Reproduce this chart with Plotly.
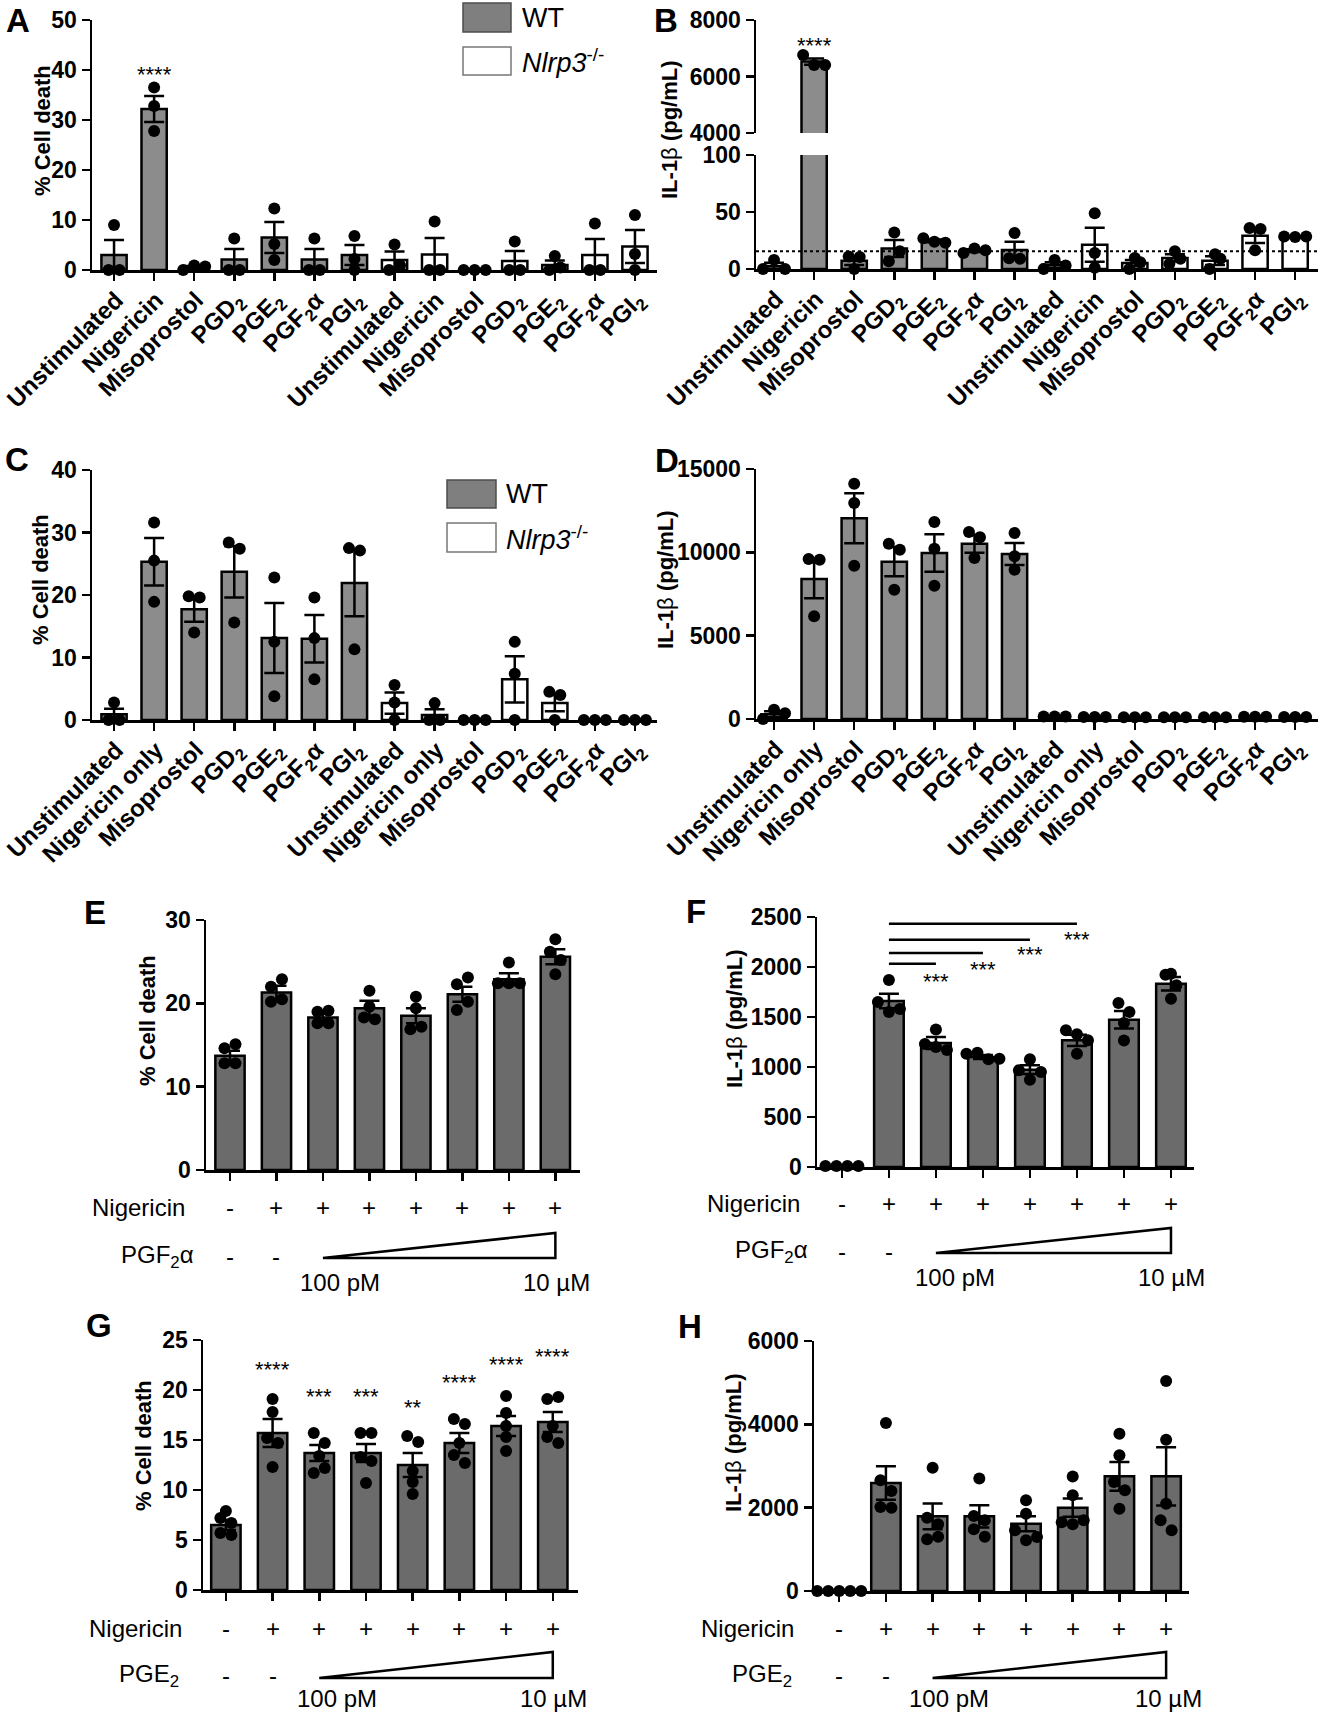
import plotly.graph_objects as go

W, H = 1320, 1717

# ---------------- data ----------------
ab_treatments = ["Unstimulated", "Nigericin", "Misoprostol", "PGD<sub>2</sub>",
                 "PGE<sub>2</sub>", "PGF<sub>2</sub>α", "PGI<sub>2</sub>"]
cd_treatments = ["Unstimulated", "Nigericin only", "Misoprostol", "PGD<sub>2</sub>",
                 "PGE<sub>2</sub>", "PGF<sub>2</sub>α", "PGI<sub>2</sub>"]

# Panel A: % cell death (WT / Nlrp3-/-)
a_wt_mean = [3.0, 32.2, 0.5, 2.1, 6.5, 2.1, 3.0]
a_wt_sem = [3.0, 2.6, 0.3, 2.1, 3.1, 2.1, 2.0]
a_wt_points = [[0, 9.0, 0], [36.5, 32.8, 27.8], [0, 0.9, 0.7], [0, 6.3, 0],
               [12.3, 5.2, 2.0], [0, 6.3, 0], [6.8, 2.2, 0]]
a_ko_mean = [2.0, 3.1, 0, 1.8, 1.0, 3.0, 4.7]
a_ko_sem = [1.7, 3.3, 0, 2.0, 0.9, 3.2, 3.3]
a_ko_points = [[5.1, 0, 0.9], [0, 9.7, 0], [0, 0, 0], [0, 5.7, 0],
               [2.8, 0, 0.5], [0, 9.3, 0], [11.0, 3.2, 0]]

# Panel B: IL-1beta (pg/mL), broken axis
b_wt_mean = [2.7, 6530, 7.2, 18.0, 24.7, 16.2, 16.7]
b_wt_sem = [2.7, 110, 3.6, 7.4, 1.2, 1.2, 7.3]
b_wt_points = [[0, 8, 0], [6765, 6410, 6410], [11, 0, 10.5], [6.7, 32, 15.5],
               [27, 24, 23], [14, 18, 16.5], [31.5, 9.5, 9]]
b_ko_mean = [3.7, 21.3, 5.2, 9.7, 7.3, 29.2, 28.3]
b_ko_sem = [2.3, 14.9, 2.8, 3.2, 3.9, 6.5, 0.2]
b_ko_points = [[0, 8, 3], [49, 14, 1], [0, 9.6, 6], [4.5, 15.5, 9],
               [0, 13, 9], [36, 16.5, 35], [28.5, 28, 28.5]]
b_threshold = 15.5

# Panel C: % cell death
c_wt_mean = [0.9, 25.3, 17.7, 23.7, 13.1, 13.0, 21.9]
c_wt_sem = [0.9, 3.8, 2.0, 4.1, 5.6, 3.8, 5.3]
c_wt_points = [[0, 2.8, 0], [31.6, 25.5, 18.9], [19.8, 14.0, 19.6], [28.4, 15.6, 27.4],
               [22.8, 12.5, 3.8], [19.6, 13.1, 6.5], [27.5, 11.3, 27.1]]
c_ko_mean = [2.7, 0.8, 0, 6.5, 2.7, 0, 0]
c_ko_sem = [1.7, 0.9, 0, 3.7, 1.3, 0, 0]
c_ko_points = [[5.6, 2.8, 0], [0, 2.7, 0], [0, 0, 0], [12.5, 7.4, 0],
               [4.5, 0, 4.0], [0, 0, 0], [0, 0, 0]]

# Panel D: IL-1beta (pg/mL)
d_wt_mean = [280, 8400, 12040, 9440, 9960, 10520, 9900]
d_wt_sem = [180, 1150, 1500, 880, 1120, 540, 660]
d_wt_points = [[0, 550, 350], [9600, 6160, 9560], [14120, 12960, 9200], [10520, 7760, 10160],
               [11820, 10220, 8000], [11220, 9660, 10900], [11160, 9760, 8960]]
d_ko_mean = [150, 120, 100, 100, 110, 130, 120]
d_ko_sem = [0, 0, 0, 0, 0, 0, 0]
d_ko_points = [[150, 150, 150], [120, 120, 120], [100, 100, 100], [100, 100, 100],
               [110, 110, 110], [130, 130, 130], [120, 120, 120]]

# Panels E-H: dose series
nigericin_row = ["-", "+", "+", "+", "+", "+", "+", "+"]
agonist_row = ["-", "-"]

e_mean = [13.7, 21.3, 18.3, 19.4, 18.5, 21.1, 22.9, 25.6]
e_sem = [0.6, 0.8, 0.5, 0.9, 0.9, 0.9, 0.7, 0.9]
e_points = [[14.6, 15.1, 12.8, 12.8], [22.0, 22.9, 20.2, 20.5], [19.0, 19.1, 17.6, 17.6],
            [21.5, 19.6, 18.3, 18.1], [20.8, 19.4, 16.9, 17.2], [22.3, 23.1, 19.2, 20.2],
            [24.9, 22.4, 22.4, 22.4], [27.7, 26.2, 25.2, 23.5]]

f_mean = [10, 1660, 1240, 1100, 973, 1267, 1473, 1833]
f_sem = [3, 73, 60, 20, 44, 56, 87, 67]
f_points = [[10, 10, 10, 10], [1870, 1650, 1550, 1580], [1375, 1230, 1200, 1170],
            [1133, 1143, 1077, 1083], [1077, 967, 873, 950], [1367, 1327, 1133, 1267],
            [1640, 1550, 1265, 1440], [1933, 1923, 1683, 1817]]
f_comparisons = [(1, 5, 2433), (1, 4, 2273), (1, 3, 2140), (1, 2, 2033)]
f_sig = ["***", "***", "***", "***"]
f_sig_y = [2317, 2167, 2017, 1900]

g_mean = [6.5, 15.7, 13.7, 13.7, 12.5, 14.7, 16.4, 16.8]
g_sem = [0.5, 1.4, 0.8, 0.9, 1.2, 1.0, 1.0, 1.0]
g_points = [[7.9, 7.2, 6.7, 5.7, 5.5], [19.1, 17.8, 15.2, 14.7, 12.3],
            [15.7, 14.7, 13.4, 11.7, 12.2], [15.7, 15.7, 13.3, 12.9, 10.7],
            [15.4, 14.8, 11.9, 10.8, 9.6], [17.1, 16.6, 14.7, 13.5, 12.7],
            [19.4, 17.7, 16.4, 15.3, 13.9], [19.1, 19.3, 16.4, 15.3, 14.7]]
g_sig = ["", "****", "***", "***", "**", "****", "****", "****"]
g_sig_y = [0, 22.5, 19.8, 19.8, 18.7, 21.2, 23.0, 23.8]

h_mean = [0, 2592, 1792, 1792, 1616, 2000, 2752, 2752]
h_sem = [0, 400, 310, 265, 180, 220, 345, 700]
h_points = [[0, 0, 0, 0, 0], [4032, 2656, 2400, 2016, 2000], [2960, 1760, 1600, 1240, 1300],
            [2700, 1800, 1700, 1480, 1300], [2176, 1856, 1456, 1216, 1296],
            [2750, 2300, 1650, 1600, 1700], [3776, 3256, 2616, 2416, 1976],
            [5040, 3632, 2096, 1696, 1456]]

# ---------------- styling ----------------
FONT = "Liberation Sans, Arial, sans-serif"
WT_ABCD = "#8c8c8c"
WT_EFGH = "#6b6b6b"
DOT = 12

fig = go.Figure()


def key(letter, n):
    return f"{letter}axis" if n == 1 else f"{letter}axis{n}"


def ref(letter, n):
    return letter if n == 1 else f"{letter}{n}"


GEOM = {}


def set_axes(n, x0, x1, top, bot, xr, yr, ytickvals, xticktext=None, nx=14,
             show_x=True, show_xline=True):
    GEOM[n] = dict(ppu_x=(x1 - x0) / (xr[1] - xr[0]), ppu_y=(bot - top) / (yr[1] - yr[0]))
    show_labels = show_x and xticktext is not None
    xa = dict(domain=[x0 / W, x1 / W], range=xr, anchor=ref("y", n),
              showline=show_xline, linewidth=2.5, linecolor="black",
              ticks="outside" if show_xline else "", ticklen=8, tickwidth=2.5,
              tickcolor="black", tickmode="array", tickvals=list(range(nx)),
              showticklabels=show_labels, tickangle=-45, automargin=False,
              ticklabelstandoff=-4, ticklabelshift=2, ticklabeloverflow="allow",
              tickfont=dict(size=24, family=FONT, color="black", weight="bold"),
              showgrid=False, zeroline=False, fixedrange=True)
    if show_labels:
        xa["ticktext"] = xticktext
    ya = dict(domain=[1 - bot / H, 1 - top / H], range=yr, anchor=ref("x", n),
              showline=True, linewidth=2.5, linecolor="black", ticks="outside",
              ticklen=8, tickwidth=2.5, tickcolor="black", tickmode="array",
              tickvals=ytickvals, tickformat="d", automargin=False,
              ticklabeloverflow="allow",
              tickfont=dict(size=23, family=FONT, color="black", weight="bold"),
              showgrid=False, zeroline=False, fixedrange=True)
    fig.update_layout(**{key("x", n): xa, key("y", n): ya})


def swarm(vals, n, spacing=11.0):
    ppu_x, ppu_y = GEOM[n]["ppu_x"], GEOM[n]["ppu_y"]
    order = sorted(range(len(vals)), key=lambda i: (vals[i], i))
    clusters, cur = [], [order[0]]
    for i in order[1:]:
        if (vals[i] - vals[cur[0]]) * ppu_y < DOT * 0.9:
            cur.append(i)
        else:
            clusters.append(cur)
            cur = [i]
    clusters.append(cur)
    off = [0.0] * len(vals)
    for c in clusters:
        c = sorted(c)
        m = len(c)
        for k, i in enumerate(c):
            off[i] = (k - (m - 1) / 2) * spacing / ppu_x
    return off


def add_bars(n, xs, means, sems, fill):
    fig.add_trace(go.Bar(
        x=xs, y=means, width=0.63, xaxis=ref("x", n), yaxis=ref("y", n),
        marker=dict(color=fill, line=dict(color="black", width=2.5)),
        error_y=dict(type="data", array=sems, visible=True, color="black",
                     thickness=2.5, width=10),
        showlegend=False, hoverinfo="skip"))


def add_dots(n, xs, groups, keep=lambda v: True):
    px_, py_ = [], []
    for x, g in zip(xs, groups):
        g = [v for v in g if keep(v)]
        if not g:
            continue
        off = swarm(g, n)
        for v, o in zip(g, off):
            px_.append(x + o)
            py_.append(v)
    fig.add_trace(go.Scatter(
        x=px_, y=py_, mode="markers", xaxis=ref("x", n), yaxis=ref("y", n),
        marker=dict(size=DOT, color="black"), cliponaxis=False,
        showlegend=False, hoverinfo="skip"))


def text(x, y, s, size=24, bold=False, xanchor="center", yanchor="middle",
         xref="paper", yref="paper", angle=0, yshift=0):
    fig.add_annotation(
        x=x, y=y, xref=xref, yref=yref, text=s, showarrow=False,
        xanchor=xanchor, yanchor=yanchor, textangle=angle, yshift=yshift,
        font=dict(size=size, family=FONT, color="black",
                  weight="bold" if bold else "normal"))


def P(xpx, ypx):
    return xpx / W, 1 - ypx / H


wt_x = list(range(7))
ko_x = list(range(7, 14))

# ---------- Panel A ----------
set_axes(1, 92, 657, 20, 270, [-0.55, 13.55], [0, 50], [0, 10, 20, 30, 40, 50],
         ab_treatments + ab_treatments)
add_bars(1, wt_x, a_wt_mean, a_wt_sem, WT_ABCD)
add_bars(1, ko_x, a_ko_mean, a_ko_sem, "white")
add_dots(1, wt_x + ko_x, a_wt_points + a_ko_points)
text(1, 40, "****", size=22, xref="x", yref="y", yshift=-4)

# ---------- Panel B (broken axis) ----------
set_axes(2, 756, 1318, 155, 269, [-0.45, 13.57], [0, 100], [0, 50, 100],
         ab_treatments + ab_treatments)
set_axes(3, 756, 1318, 20, 133, [-0.45, 13.57], [4000, 8000], [4000, 6000, 8000],
         None, show_x=False, show_xline=False)
for n in (2, 3):
    add_bars(n, wt_x, b_wt_mean, b_wt_sem, WT_ABCD)
    add_bars(n, ko_x, b_ko_mean, b_ko_sem, "white")
add_dots(2, wt_x + ko_x, b_wt_points + b_ko_points, keep=lambda v: v <= 100)
add_dots(3, wt_x + ko_x, b_wt_points + b_ko_points, keep=lambda v: v >= 4000)
fig.add_shape(type="line", xref="x2 domain", yref="y2", x0=0, x1=1,
              y0=b_threshold, y1=b_threshold,
              line=dict(color="black", width=2, dash="dot"))
text(1, 7235, "****", size=22, xref="x3", yref="y3", yshift=-4)

# ---------- Panel C ----------
set_axes(4, 92, 657, 470, 720, [-0.55, 13.55], [0, 40], [0, 10, 20, 30, 40],
         cd_treatments + cd_treatments)
add_bars(4, wt_x, c_wt_mean, c_wt_sem, WT_ABCD)
add_bars(4, ko_x, c_ko_mean, c_ko_sem, "white")
add_dots(4, wt_x + ko_x, c_wt_points + c_ko_points)

# ---------- Panel D ----------
set_axes(5, 756, 1318, 469, 719, [-0.45, 13.57], [0, 15000], [0, 5000, 10000, 15000],
         cd_treatments + cd_treatments)
add_bars(5, wt_x, d_wt_mean, d_wt_sem, WT_ABCD)
add_bars(5, ko_x, d_ko_mean, d_ko_sem, "white")
add_dots(5, wt_x + ko_x, d_wt_points + d_ko_points)

# ---------- Panels E-H ----------
dose_x = list(range(8))
set_axes(6, 206, 580, 920, 1170, [-0.516, 7.53], [0, 30], [0, 10, 20, 30], None, nx=8)
add_bars(6, dose_x, e_mean, e_sem, WT_EFGH)
add_dots(6, dose_x, e_points)

set_axes(7, 817, 1194, 917, 1167, [-0.53, 7.49], [0, 2500],
         [0, 500, 1000, 1500, 2000, 2500], None, nx=8)
add_bars(7, dose_x, f_mean, f_sem, WT_EFGH)
add_dots(7, dose_x, f_points)
for (a, b, yv) in f_comparisons:
    fig.add_shape(type="line", xref="x7", yref="y7", x0=a, x1=b, y0=yv, y1=yv,
                  line=dict(color="black", width=2.5))
for (a, b, yv), s, sy in zip(f_comparisons, f_sig, f_sig_y):
    text(b, sy, s, size=22, xref="x7", yref="y7", yshift=-4)

set_axes(8, 203, 578, 1340, 1590, [-0.49, 7.54], [0, 25], [0, 5, 10, 15, 20, 25],
         None, nx=8)
add_bars(8, dose_x, g_mean, g_sem, WT_EFGH)
add_dots(8, dose_x, g_points)
for i, (s, sy) in enumerate(zip(g_sig, g_sig_y)):
    if s:
        text(i, sy, s, size=22, xref="x8", yref="y8", yshift=-4)

set_axes(9, 814, 1189, 1341, 1591, [-0.54, 7.49], [0, 6000], [0, 2000, 4000, 6000],
         None, nx=8)
add_bars(9, dose_x, h_mean, h_sem, WT_EFGH)
add_dots(9, dose_x, h_points)

# treatment rows under E-H
rows = [
    (6, 90, 1207, "PGF<sub>2</sub>α", 119, 1256, 1258, 1233, 340, 556, 1282),
    (7, 705, 1203, "PGF<sub>2</sub>α", 733, 1251, 1253, 1228, 955, 1171, 1277),
    (8, 87, 1628, "PGE<sub>2</sub>", 117, 1675, 1678, 1652, 337, 553, 1698),
    (9, 699, 1628, "PGE<sub>2</sub>", 730, 1675, 1678, 1652, 949, 1168, 1698),
]
for n, nx_, ny_, ag, ax_, ay_, tb, tt, lx, hx, cy in rows:
    xr_ = ref("x", n)
    text(*P(nx_, ny_), "Nigericin", size=24, xanchor="left")
    for i, s in enumerate(nigericin_row):
        text(i, 1 - ny_ / H, s, size=24, xref=xr_)
    text(*P(ax_, ay_), ag, size=24, xanchor="left")
    for i, s in enumerate(agonist_row):
        text(i, 1 - ay_ / H, s, size=24, xref=xr_)
    yb, yt = 1 - tb / H, 1 - tt / H
    fig.add_shape(type="path", xref=xr_, yref="paper",
                  path=f"M 2,{yb} L 7,{yb} L 7,{yt} Z",
                  line=dict(color="black", width=2.5), fillcolor="white")
    text(*P(lx, cy), "100 pM", size=24)
    text(*P(hx, cy), "10 µM", size=24)

# ---------- axis titles ----------
cell = "<b>% Cell death</b>"
il1b = "<b>IL-1</b>β<b> (pg/mL)</b>"
for (tx, ty, s) in [(42, 130, cell), (669, 130, il1b), (41, 580, cell), (666, 580, il1b),
                    (147, 1021, cell), (734, 1019, il1b), (143, 1446, cell),
                    (733, 1443, il1b)]:
    text(*P(tx, ty), s, size=22, angle=-90)

# ---------- panel letters ----------
for (lx, ly, s) in [(18, 20, "A"), (666, 20, "B"), (17, 459, "C"), (667, 460, "D"),
                    (95, 912, "E"), (696, 911, "F"), (99, 1325, "G"), (690, 1326, "H")]:
    text(*P(lx, ly), s, size=33, bold=True)

# ---------- legends ----------
for (bx0, bx1, wy0, wy1, ky0, ky1, tx) in [(463, 511, 3, 32, 47, 75, 520),
                                            (447, 496, 480, 508, 523, 552, 504)]:
    fig.add_shape(type="rect", xref="paper", yref="paper",
                  x0=bx0 / W, x1=bx1 / W, y0=1 - wy1 / H, y1=1 - wy0 / H,
                  fillcolor="#7f7f7f", line=dict(color="#4d4d4d", width=1.5))
    fig.add_shape(type="rect", xref="paper", yref="paper",
                  x0=bx0 / W, x1=bx1 / W, y0=1 - ky1 / H, y1=1 - ky0 / H,
                  fillcolor="white", line=dict(color="#777777", width=1.5))
    text(*P(tx, (wy0 + wy1) / 2), "WT", size=27, xanchor="left")
    text(*P(tx, (ky0 + ky1) / 2), "<i>Nlrp3</i><sup>-/-</sup>", size=27, xanchor="left")

fig.update_layout(
    width=W, height=H, margin=dict(l=0, r=0, t=0, b=0, autoexpand=False),
    paper_bgcolor="white", plot_bgcolor="white", barmode="overlay",
    font=dict(family=FONT, color="black"), showlegend=False)

fig.write_html(
    "out.html",
    config={"displayModeBar": False, "staticPlot": True},
    post_script="document.body.style.margin='0px';"
                "document.documentElement.style.overflow='hidden';")
